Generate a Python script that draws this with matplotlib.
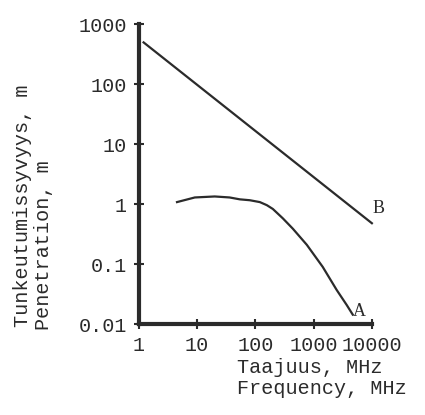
import matplotlib
matplotlib.use("Agg")
import matplotlib.pyplot as plt
from matplotlib.ticker import FixedLocator, FixedFormatter, NullLocator

# data (MHz, m)
freq_a = [4.5, 9.1, 20, 36, 54, 80, 119, 157, 199, 295, 438, 762, 1430, 2490, 3700, 4690]
pen_a = [1.08, 1.29, 1.34, 1.29, 1.20, 1.16, 1.08, 0.96, 0.83, 0.58, 0.39, 0.21, 0.090, 0.037, 0.0208, 0.0144]
freq_b = [1.2, 10000]
pen_b = [495, 0.48]

x_ticks = [1, 10, 100, 1000, 10000]
x_labels = ["1", "10", "100", "1000", "10000"]
y_ticks = [0.01, 0.1, 1, 10, 100, 1000]
y_labels = ["0.01", "0.1", "1", "10", "100", "1000"]

plt.rcParams['font.family'] = ['Liberation Mono', 'DejaVu Sans Mono']
ink = '#2b2b2b'

fig = plt.figure(figsize=(4.25, 4.15), dpi=100)
ax = fig.add_axes([0.327, 0.219, 0.548, 0.723])
ax.set_xscale('log')
ax.set_yscale('log')
ax.set_xlim(1, 10000)
ax.set_ylim(0.01, 1000)

ax.plot(freq_b, pen_b, color=ink, lw=1.6, clip_on=False)
ax.plot(freq_a, pen_a, color=ink, lw=1.6, clip_on=False, solid_joinstyle='round')

ax.text(4700, 0.0115, "A", fontsize=13, color=ink, family='Liberation Serif', va='bottom')
ax.text(10300, 0.62, "B", fontsize=13, color=ink, family='Liberation Serif', va='bottom')

for s in ['top', 'right']:
    ax.spines[s].set_visible(False)
for s in ['left', 'bottom']:
    ax.spines[s].set_linewidth(3)
    ax.spines[s].set_color(ink)

ax.xaxis.set_major_locator(FixedLocator(x_ticks))
ax.xaxis.set_major_formatter(FixedFormatter(x_labels))
ax.yaxis.set_major_locator(FixedLocator(y_ticks))
ax.yaxis.set_major_formatter(FixedFormatter(y_labels))
ax.xaxis.set_minor_locator(NullLocator())
ax.yaxis.set_minor_locator(NullLocator())
ax.tick_params(axis='both', direction='inout', length=7, width=1.5, color=ink,
               labelsize=14.5, labelcolor=ink, pad=5)

fig.text(0.557, 0.115, "Taajuus, MHz", fontsize=14.5, color=ink, ha='left', va='center')
fig.text(0.557, 0.065, "Frequency, MHz", fontsize=14.5, color=ink, ha='left', va='center')
fig.text(0.052, 0.212, "Tunkeutumissyvyys, m", fontsize=14.5, color=ink,
         rotation=90, ha='center', va='bottom')
fig.text(0.102, 0.205, "Penetration, m", fontsize=14.5, color=ink,
         rotation=90, ha='center', va='bottom')

fig.savefig('out.png', dpi=100)
